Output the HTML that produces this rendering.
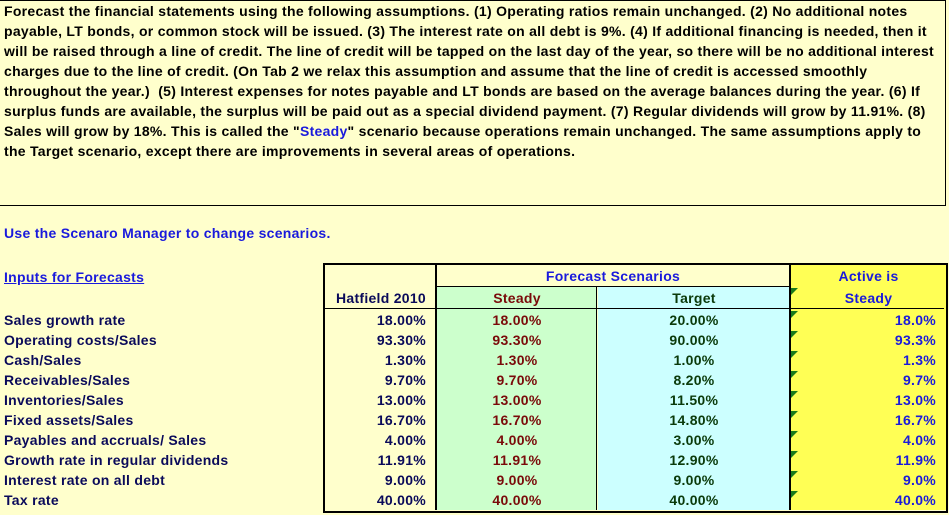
<!DOCTYPE html>
<html><head><meta charset="utf-8"><style>
body{margin:0;width:949px;height:515px;background:#ffffcc;font-family:"Liberation Sans",Arial,sans-serif;font-weight:bold;font-size:14px;letter-spacing:0.28px;position:relative;overflow:hidden}
.box{position:absolute;left:0;top:0;width:945px;height:204px;border:1px solid #000;border-left:none;}
.t{position:absolute;left:4px;white-space:nowrap;color:#000;line-height:20px}
.a{position:absolute;white-space:nowrap;line-height:20px}
.c{position:absolute}
.lbl{color:#0a0a5a}
.r{text-align:right}
.cc{text-align:center}
.tri{position:absolute;width:0;height:0;border-top:7px solid #1a7a1a;border-right:7px solid transparent}
</style></head><body>
<div class="box"></div>
<div class="t" style="top:1px">Forecast the financial statements using the following assumptions. (1) Operating ratios remain unchanged. (2) No additional notes</div>
<div class="t" style="top:21px">payable, LT bonds, or common stock will be issued. (3) The interest rate on all debt is 9%. (4) If additional financing is needed, then it</div>
<div class="t" style="top:41px">will be raised through a line of credit. The line of credit will be tapped on the last day of the year, so there will be no additional interest</div>
<div class="t" style="top:61px">charges due to the line of credit. (On Tab 2 we relax this assumption and assume that the line of credit is accessed smoothly</div>
<div class="t" style="top:81px">throughout the year.)&nbsp; (5) Interest expenses for notes payable and LT bonds are based on the average balances during the year. (6) If</div>
<div class="t" style="top:101px">surplus funds are available, the surplus will be paid out as a special dividend payment. (7) Regular dividends will grow by 11.91%. (8)</div>
<div class="t" style="top:121px">Sales will grow by 18%. This is called the "<span style="color:#1a1adc">Steady</span>" scenario because operations remain unchanged. The same assumptions apply to</div>
<div class="t" style="top:141px">the Target scenario, except there are improvements in several areas of operations.</div>
<div class="a" style="left:4px;top:223px;color:#1a1adc">Use the Scenaro Manager to change scenarios.</div>
<div class="a" style="left:4px;top:267px;color:#1a1adc;text-decoration:underline">Inputs for Forecasts</div>

<div class="c" style="left:437px;top:287px;width:160px;height:223px;background:#ccffcc"></div>
<div class="c" style="left:598px;top:287px;width:192px;height:223px;background:#ccffff"></div>
<div class="c" style="left:791px;top:265px;width:155px;height:245px;background:#ffff55"></div>
<div class="c" style="left:323px;top:263px;width:621px;height:246px;border:2px solid #000"></div>
<div class="c" style="left:435px;top:265px;width:2px;height:245px;background:#000"></div>
<div class="c" style="left:789px;top:265px;width:2px;height:245px;background:#000"></div>
<div class="c" style="left:596px;top:287px;width:1px;height:223px;background:#000"></div>
<div class="c" style="left:437px;top:286px;width:352px;height:1px;background:#000"></div>
<div class="c" style="left:325px;top:308px;width:619px;height:1px;background:#000"></div>

<div class="a cc" style="left:437px;top:266px;width:352px;color:#1a1adc">Forecast Scenarios</div>
<div class="a cc" style="left:791px;top:266px;width:155px;color:#1a1adc">Active is</div>
<div class="a r" style="left:325px;top:288px;width:101px;color:#0a0a5a">Hatfield 2010</div>
<div class="a cc" style="left:437px;top:288px;width:160px;color:#7a0a0a">Steady</div>
<div class="a cc" style="left:598px;top:288px;width:192px;color:#0a3a0a">Target</div>
<div class="a cc" style="left:791px;top:288px;width:155px;color:#1a1adc">Steady</div>
<div class="tri" style="left:791px;top:288px"></div>

<div id="rows"></div>
<script>
var d=[["Sales growth rate","18.00%","18.00%","20.00%","18.0%"],
["Operating costs/Sales","93.30%","93.30%","90.00%","93.3%"],
["Cash/Sales","1.30%","1.30%","1.00%","1.3%"],
["Receivables/Sales","9.70%","9.70%","8.20%","9.7%"],
["Inventories/Sales","13.00%","13.00%","11.50%","13.0%"],
["Fixed assets/Sales","16.70%","16.70%","14.80%","16.7%"],
["Payables and accruals/ Sales","4.00%","4.00%","3.00%","4.0%"],
["Growth rate in regular dividends","11.91%","11.91%","12.90%","11.9%"],
["Interest rate on all debt","9.00%","9.00%","9.00%","9.0%"],
["Tax rate","40.00%","40.00%","40.00%","40.0%"]];
var h="";
d.forEach(function(r,i){var y=310+i*20;
h+='<div class="a lbl" style="left:4px;top:'+y+'px">'+r[0]+'</div>';
h+='<div class="a r" style="left:325px;top:'+y+'px;width:101px;color:#0a0a5a">'+r[1]+'</div>';
h+='<div class="a cc" style="left:437px;top:'+y+'px;width:160px;color:#7a0a0a">'+r[2]+'</div>';
h+='<div class="a cc" style="left:598px;top:'+y+'px;width:192px;color:#0a3a0a">'+r[3]+'</div>';
h+='<div class="a r" style="left:791px;top:'+y+'px;width:145px;color:#1a1adc">'+r[4]+'</div>';
h+='<div class="tri" style="left:791px;top:'+(y+1)+'px"></div>';});
document.getElementById("rows").innerHTML=h;
</script>
</body></html>
